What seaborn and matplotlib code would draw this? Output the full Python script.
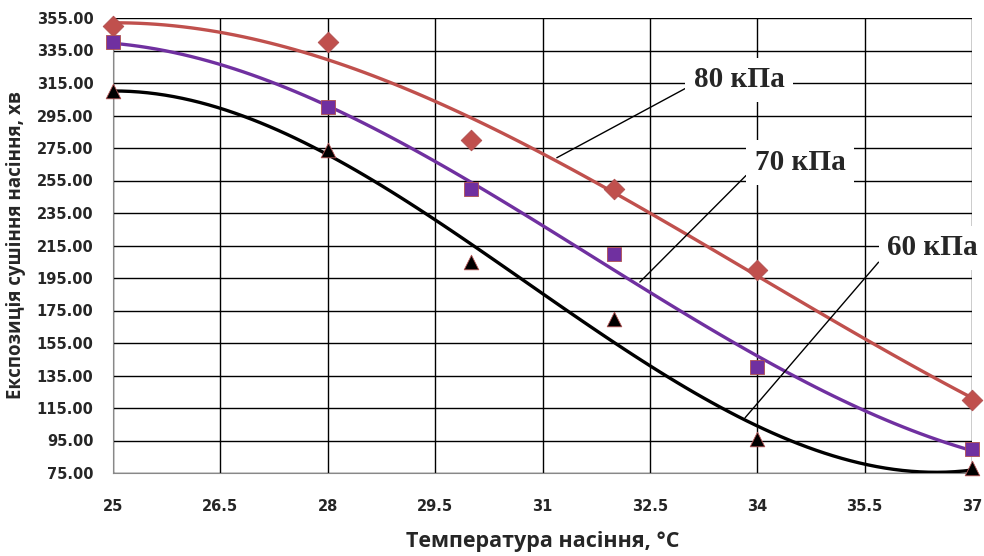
import matplotlib
matplotlib.use("Agg")
import matplotlib.pyplot as plt
import seaborn as sns
import pandas as pd

temperature = [25, 28, 30, 32, 34, 37]
kpa80 = [350, 340, 280, 250, 200, 120]
kpa70 = [340, 300, 250, 210, 140, 90]
kpa60 = [310, 274, 205, 170, 96, 78]
x_ticks = [25, 26.5, 28, 29.5, 31, 32.5, 34, 35.5, 37]
y_ticks = [75, 95, 115, 135, 155, 175, 195, 215, 235, 255, 275, 295, 315, 335, 355]

sns.set_style("white")
plt.rcParams['font.family'] = ['DejaVu Sans']

fig = plt.figure(figsize=(9.84, 5.56), dpi=100)
ax = fig.add_axes([113/984, 1-473/556, (972-113)/984, (473-18)/556])

series = [
    (kpa80, "#C0504D", "D", 10.5),
    (kpa70, "#7030A0", "s", 10),
    (kpa60, "#000000", "^", 10.5),
]
for vals, col, mk, ms in series:
    df = pd.DataFrame({"t": temperature, "v": vals})
    sns.regplot(data=df, x="t", y="v", order=3, ci=None, ax=ax, color=col,
                marker=mk, truncate=True,
                scatter_kws=dict(s=ms**2, color=col, edgecolors="#B05050", linewidths=0.6,
                                 alpha=1, zorder=4, clip_on=False),
                line_kws=dict(color=col, lw=2.4, zorder=3))

ax.set_xlim(25, 37)
ax.set_ylim(75, 355)
ax.set_xticks(x_ticks)
ax.set_xticklabels([f"{v:g}" for v in x_ticks])
ax.set_yticks(y_ticks)
ax.set_yticklabels([f"{v:.2f}" for v in y_ticks])
ax.grid(True, color="black", lw=1.0)
ax.set_axisbelow(True)
for s in ["left", "bottom"]:
    ax.spines[s].set_color("#888888")
for s in ["top", "right"]:
    ax.spines[s].set_visible(False)
ax.tick_params(axis="both", length=0, labelsize=10.5)
ax.tick_params(axis="x", pad=19)
ax.tick_params(axis="y", pad=14)
for lab in ax.get_xticklabels() + ax.get_yticklabels():
    lab.set_fontweight("bold")

ax.set_xlabel("Температура насіння, °C", fontsize=15.5, fontweight="bold",
              family=["Open Sans", "DejaVu Sans"], labelpad=12)
ax.set_ylabel("Експозиція сушіння насіння, хв", fontsize=13.5, fontweight="bold",
              family=["Open Sans", "DejaVu Sans"], labelpad=8)

labels = [
    ("80 кПа", (33.75, 317), (31.2, 269)),
    ("70 кПа", (34.6, 266), (32.36, 192.5)),
    ("60 кПа", (36.45, 213.5), (33.83, 109)),
]
for txt, tpos, ppos in labels:
    ax.annotate(txt, xy=ppos, xytext=tpos, fontsize=21, fontweight="bold",
                family=["Liberation Serif"], ha="center", va="center",
                bbox=dict(boxstyle="square,pad=0.3", fc="white", ec="none"),
                arrowprops=dict(arrowstyle="-", color="black", lw=1.0,
                                shrinkA=0, shrinkB=0,
                                relpos=(0.0, 0.35)),
                zorder=5, annotation_clip=False)

fig.savefig("out.png", dpi=100)
